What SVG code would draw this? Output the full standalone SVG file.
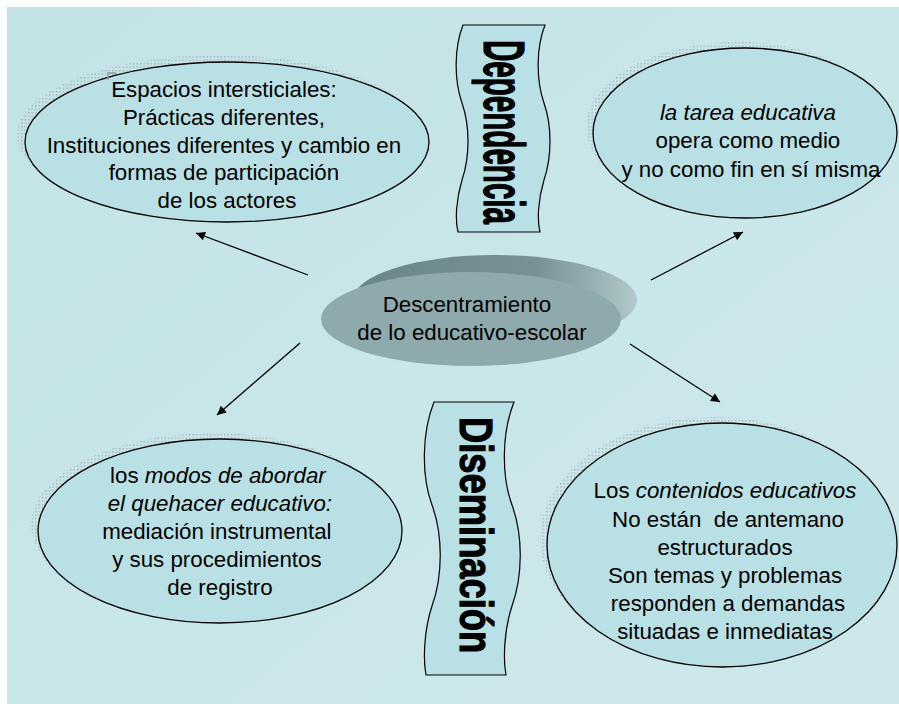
<svg xmlns="http://www.w3.org/2000/svg" width="899" height="704" viewBox="0 0 899 704">
<defs>
<linearGradient id="bg" x1="0" y1="0" x2="1" y2="1">
<stop offset="0" stop-color="#c3e3e7"/>
<stop offset="0.5" stop-color="#c9e6ea"/>
<stop offset="1" stop-color="#cde8eb"/>
</linearGradient>
<linearGradient id="rim" x1="0" y1="0" x2="1" y2="0">
<stop offset="0" stop-color="#6a8689"/>
<stop offset="0.65" stop-color="#779295"/>
<stop offset="1" stop-color="#b2c8ca"/>
</linearGradient>
<pattern id="dots" width="3.5" height="3.5" patternUnits="userSpaceOnUse">
<rect x="0" y="0" width="1.4" height="1.4" fill="#a4b2b4"/>
</pattern>
<marker id="ah" viewBox="0 0 10 10" refX="10" refY="5" markerWidth="11" markerHeight="9" orient="auto" markerUnits="userSpaceOnUse">
<path d="M0,0 L10,5 L0,10 z" fill="#000"/>
</marker>
</defs>
<style>
.oval{fill:#b9e0e4;stroke:#000;stroke-width:1.3}
.shadow{fill:url(#dots)}
.t{font-family:"Liberation Sans",Arial,sans-serif;font-size:22.3px;fill:#000;text-anchor:middle}
.it{font-style:italic}
.banner{fill:#b9e0e4;stroke:#000;stroke-width:1.2}
.vt{font-family:"Liberation Sans",Arial,sans-serif;font-weight:bold;fill:#000;stroke:#000;stroke-width:1.2}
.conn{stroke:#000;stroke-width:1.3;fill:none;marker-end:url(#ah)}
</style>
<rect x="0" y="0" width="899" height="704" fill="#ffffff"/>
<rect x="7" y="7" width="892" height="697" fill="url(#bg)"/>

<g id="connectors">
<line class="conn" x1="308" y1="275" x2="196" y2="233"/>
<line class="conn" x1="651" y1="280" x2="743" y2="232"/>
<line class="conn" x1="300" y1="343" x2="217" y2="415"/>
<line class="conn" x1="630" y1="344" x2="720" y2="402"/>
</g>

<g id="node-espacios">
<ellipse class="shadow" cx="219" cy="135" rx="202" ry="80"/>
<ellipse class="oval" cx="227" cy="142" rx="202" ry="80"/>
<path d="M108,80 L108,73 L116,73" fill="none" stroke="#8a9a9c" stroke-width="1.5"/>
<text class="t">
<tspan x="227" y="97">Espacios intersticiales:</tspan>
<tspan x="227" y="125">Prácticas diferentes,</tspan>
<tspan x="227" y="153">Instituciones diferentes y cambio en</tspan>
<tspan x="227" y="180">formas de participación</tspan>
<tspan x="227" y="208">de los actores</tspan>
</text>
</g>

<g id="node-tarea">
<ellipse class="shadow" cx="738" cy="127" rx="152" ry="85"/>
<ellipse class="oval" cx="745" cy="133" rx="152" ry="85"/>
<text class="t">
<tspan x="751" y="120" class="it">la tarea educativa</tspan>
<tspan x="751" y="148">opera como medio</tspan>
<tspan x="751" y="177">y no como fin en sí misma</tspan>
</text>
</g>

<g id="node-dependencia">
<path class="banner" d="M463,25 C454,48 454,80 462,103 C470,126 470,156 462,180 C456,200 455,220 458,232 L540,232 C537,220 538,200 544,180 C552,156 552,126 544,103 C536,80 536,48 545,25 Z"/>
<text class="vt" font-size="58" transform="translate(484,40) rotate(90) scale(0.51,1)">Dependencia</text>
</g>

<g id="node-centro">
<ellipse cx="495" cy="300" rx="142" ry="45" fill="url(#rim)"/>
<ellipse cx="471" cy="319" rx="150" ry="47" fill="#8eaaac"/>
<text class="t">
<tspan x="470" y="312">Descentramiento</tspan>
<tspan x="472" y="340">de lo educativo-escolar</tspan>
</text>
</g>

<g id="node-modos">
<ellipse class="shadow" cx="213" cy="525" rx="182" ry="92"/>
<ellipse class="oval" cx="220" cy="531" rx="182" ry="92"/>
<text class="t">
<tspan x="221" y="483">los <tspan class="it">modos de abordar</tspan></tspan>
<tspan x="223" y="511" class="it">el quehacer educativo:</tspan>
<tspan x="220" y="539">mediación instrumental</tspan>
<tspan x="220" y="567">y sus procedimientos</tspan>
<tspan x="220" y="595">de registro</tspan>
</text>
</g>

<g id="node-diseminacion">
<path class="banner" d="M434,402 C422,432 421,475 432,505 C443,535 443,575 432,606 C424,630 423,660 426,675 L506,675 C503,660 504,630 512,606 C523,575 523,535 512,505 C501,475 502,432 514,402 Z"/>
<text class="vt" font-size="46" transform="translate(460,417) rotate(90) scale(0.79,1)">Diseminación</text>
</g>

<g id="node-contenidos">
<ellipse class="shadow" cx="715" cy="539" rx="175" ry="122"/>
<ellipse class="oval" cx="722" cy="545" rx="175" ry="122"/>
<text class="t" xml:space="preserve"><tspan x="725" y="498">Los <tspan class="it">contenidos educativos</tspan></tspan><tspan x="728" y="527">No están  de antemano</tspan><tspan x="725" y="555">estructurados</tspan><tspan x="725" y="583">Son temas y problemas</tspan><tspan x="728" y="611">responden a demandas</tspan><tspan x="725" y="639">situadas e inmediatas</tspan></text>
</g>
</svg>
